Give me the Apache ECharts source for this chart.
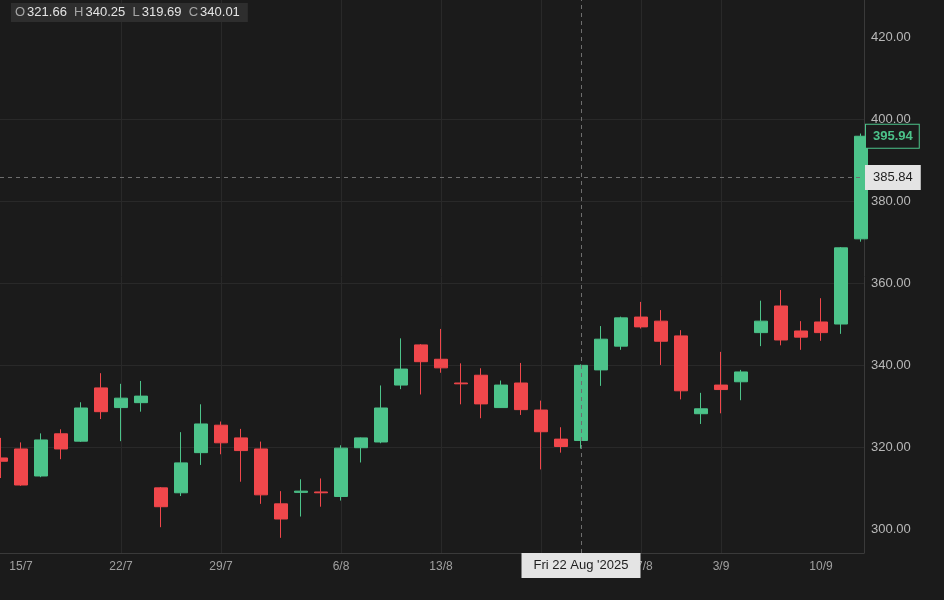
<!DOCTYPE html>
<html>
<head>
<meta charset="utf-8">
<title>Candles</title>
<script src="https://cdn.jsdelivr.net/npm/echarts@6.0.0/dist/echarts.min.js"></script>
<style>
	html, body { margin: 0; padding: 0; background: #1b1b1b; }
	#chart { width: 944px; height: 600px; }
</style>
</head>
<body>
<div id="chart"></div>
<script>
// trading days, 14 Jul - 12 Sep 2025 (1 Sep holiday)
var dates = ['2025-07-14','2025-07-15','2025-07-16','2025-07-17','2025-07-18',
	'2025-07-21','2025-07-22','2025-07-23','2025-07-24','2025-07-25',
	'2025-07-28','2025-07-29','2025-07-30','2025-07-31','2025-08-01',
	'2025-08-04','2025-08-05','2025-08-06','2025-08-07','2025-08-08',
	'2025-08-11','2025-08-12','2025-08-13','2025-08-14','2025-08-15',
	'2025-08-18','2025-08-19','2025-08-20','2025-08-21','2025-08-22',
	'2025-08-25','2025-08-26','2025-08-27','2025-08-28','2025-08-29',
	'2025-09-02','2025-09-03','2025-09-04','2025-09-05',
	'2025-09-08','2025-09-09','2025-09-10','2025-09-11','2025-09-12'];
var opens = [317.4, 319.6, 313.0, 323.3, 321.5, 334.5, 329.7, 330.9, 310.1, 308.9,
	318.7, 325.4, 322.3, 319.6, 306.2, 309.0, 309.1, 308.0, 319.9, 321.3,
	335.2, 345.0, 341.5, 335.7, 337.6, 329.7, 335.7, 329.1, 322.0, 321.66,
	338.9, 344.7, 351.8, 350.8, 347.2, 328.2, 335.2, 336.0, 348.0,
	354.5, 348.4, 350.6, 350.1, 370.9];
var highs = [322.3, 321.2, 323.4, 324.4, 331.0, 338.1, 335.5, 336.2, 310.3, 323.7,
	330.5, 326.3, 324.5, 321.4, 309.3, 312.2, 312.4, 320.5, 322.4, 335.1,
	346.6, 345.2, 348.9, 340.5, 339.3, 336.3, 340.6, 331.4, 324.9, 340.25,
	349.6, 351.9, 355.5, 353.5, 348.6, 333.3, 343.3, 338.9, 355.8,
	358.4, 350.8, 356.4, 368.9, 396.6];
var lows = [312.5, 310.6, 312.7, 317.1, 321.3, 326.9, 321.5, 328.7, 300.5, 308.1,
	315.7, 318.3, 311.6, 306.2, 297.9, 303.1, 305.5, 307.0, 316.3, 321.0,
	334.2, 332.9, 338.2, 330.5, 327.1, 329.6, 327.9, 314.6, 318.7, 319.69,
	335.0, 343.8, 349.0, 340.1, 331.7, 325.7, 328.3, 331.5, 344.7,
	344.9, 343.8, 346.0, 347.7, 370.2];
var closes = [316.6, 310.8, 321.8, 319.6, 329.6, 328.7, 332.0, 332.5, 305.5, 316.2,
	325.7, 321.1, 319.2, 308.4, 302.5, 309.3, 308.9, 319.8, 322.3, 329.6,
	339.1, 340.9, 339.4, 335.5, 330.6, 335.2, 329.2, 323.8, 320.2, 340.01,
	346.4, 351.6, 349.4, 345.9, 333.8, 329.4, 334.1, 338.4, 350.8,
	346.2, 346.9, 348.0, 368.7, 395.94];
var xTickDates = ['2025-07-15','2025-07-22','2025-07-29','2025-08-06','2025-08-13',
	'2025-08-20','2025-08-27','2025-09-03','2025-09-10'];
var yTicks = [300, 320, 340, 360, 380, 400, 420];
var crossDate = '2025-08-22';
var crossPrice = 385.84;

var UP = '#4cc38a';
var DOWN = '#f0474b';
var FONT = "'Liberation Sans', Arial, Helvetica, sans-serif";

var weekdays = ['Sun','Mon','Tue','Wed','Thu','Fri','Sat'];
var months = ['Jan','Feb','Mar','Apr','May','Jun','Jul','Aug','Sep','Oct','Nov','Dec'];

function shortDate(s) {
	var p = s.split('-');
	return parseInt(p[2], 10) + '/' + parseInt(p[1], 10);
}
function longDate(s) {
	var d = new Date(s + 'T12:00:00');
	return weekdays[d.getDay()] + ' ' + d.getDate() + ' ' + months[d.getMonth()] + " '" + d.getFullYear();
}

var candles = dates.map(function (d, i) {
	return [i, opens[i], closes[i], lows[i], highs[i]];
});
var tickIdx = xTickDates.map(function (d) { return dates.indexOf(d); });
var crossIdx = dates.indexOf(crossDate);
var last = dates.length - 1;

var chart = echarts.init(document.getElementById('chart'));
chart.setOption({
	backgroundColor: '#1b1b1b',
	animation: false,
	textStyle: { fontFamily: FONT },
	title: {
		left: 11,
		top: 3,
		padding: [3, 8, 3, 4],
		backgroundColor: '#2e2e2e',
		text: '{k|O}{v|' + opens[crossIdx].toFixed(2) + '}  ' +
			'{k|H}{v|' + highs[crossIdx].toFixed(2) + '}  ' +
			'{k|L}{v|' + lows[crossIdx].toFixed(2) + '}  ' +
			'{k|C}{v|' + closes[crossIdx].toFixed(2) + '}',
		textStyle: {
			fontWeight: 'normal',
			fontSize: 13,
			rich: {
				k: { color: '#a6a6a6', fontSize: 13, fontWeight: 'normal', fontFamily: FONT, padding: [0, 2, 0, 0] },
				v: { color: '#e4e4e4', fontSize: 13, fontWeight: 'normal', fontFamily: FONT }
			}
		}
	},
	grid: {
		left: 0,
		right: 80,
		top: 0,
		bottom: 47
	},
	xAxis: {
		type: 'value',
		min: -0.05,
		max: 43.15,
		axisLine: { show: true, onZero: false, lineStyle: { color: '#3a3a3a' } },
		axisTick: { show: false, customValues: tickIdx },
		axisLabel: {
			customValues: tickIdx,
			color: '#a0a0a0',
			fontSize: 12,
			margin: 8,
			formatter: function (v) { return shortDate(dates[Math.round(v)]); }
		},
		splitLine: { show: true, showMinLine: false, showMaxLine: false, lineStyle: { color: '#292929' } }
	},
	yAxis: {
		type: 'value',
		position: 'right',
		min: 294.2,
		max: 429.2,
		axisLine: { show: true, onZero: false, lineStyle: { color: '#3a3a3a' } },
		axisTick: { show: false, customValues: yTicks },
		axisLabel: {
			customValues: yTicks,
			color: '#b8b8b8',
			fontSize: 13,
			margin: 7,
			formatter: function (v) { return v.toFixed(2); }
		},
		splitLine: { show: true, showMinLine: false, showMaxLine: false, lineStyle: { color: '#292929' } }
	},
	series: [{
		type: 'candlestick',
		data: candles,
		barWidth: 13,
		itemStyle: {
			color: UP,
			color0: DOWN,
			borderColor: UP,
			borderColor0: DOWN,
			borderWidth: 1
		},
		markLine: {
			silent: true,
			symbol: ['none', 'none'],
			animation: false,
			data: [
				{
					xAxis: crossIdx,
					lineStyle: { color: '#6e6e6e', type: [4, 4], width: 1 },
					label: {
						show: true,
						position: 'start',
						distance: 0,
						formatter: longDate(crossDate),
						backgroundColor: '#e4e4e4',
						color: '#1e1e1e',
						fontSize: 13,
						fontFamily: FONT,
						padding: [6, 12, 6, 12]
					}
				},
				{
					yAxis: crossPrice,
					lineStyle: { color: '#6e6e6e', type: [4, 4], width: 1 },
					label: {
						show: true,
						position: 'end',
						distance: 1,
						formatter: crossPrice.toFixed(2),
						backgroundColor: '#e4e4e4',
						color: '#1e1e1e',
						fontSize: 13,
						fontFamily: FONT,
						padding: [6, 8, 6, 8]
					}
				},
				{
					yAxis: closes[last],
					lineStyle: { color: 'rgba(0,0,0,0)', width: 1 },
					label: {
						show: true,
						position: 'end',
						distance: 2,
						formatter: closes[last].toFixed(2),
						backgroundColor: '#1b1b1b',
						borderColor: UP,
						borderWidth: 1,
						color: UP,
						fontWeight: 'bold',
						fontSize: 13,
						fontFamily: FONT,
						padding: [5, 6, 5, 7]
					}
				}
			]
		}
	}]
});
</script>
</body>
</html>
